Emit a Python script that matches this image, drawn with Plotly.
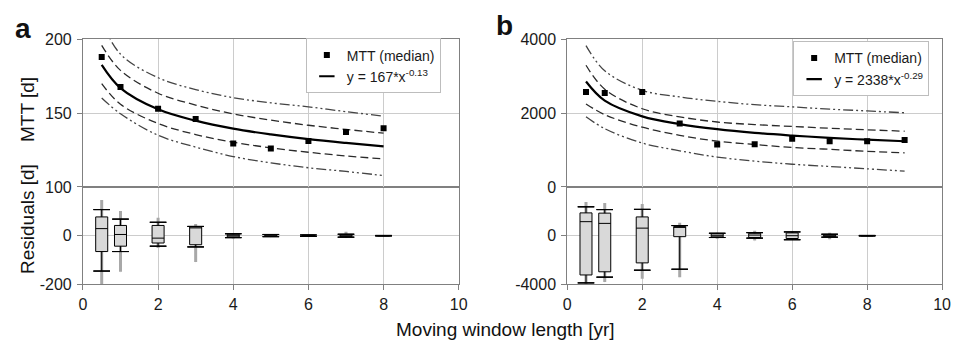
import plotly.graph_objects as go

# ---------------- data: panel a ----------------
x_a = [0.5, 1, 2, 3, 4, 5, 6, 7, 8]
mtt_a = [188, 167.7, 153, 146, 129.5, 126, 131.2, 137.2, 139.7]
fit_a = [182.7, 167.0, 152.6, 144.9, 139.5, 135.6, 132.4, 129.8, 127.5]
dash_hi_a = [196, 179, 163.5, 155.5, 149.5, 145.3, 141.8, 139.0, 136.4]
dash_lo_a = [170, 156, 143, 135.5, 130.3, 126.5, 123.5, 121.0, 119.0]
dd_hi_a = [212, 190, 174, 166, 160.5, 157, 154.3, 151, 148]
dd_lo_a = [160.3, 149.6, 135, 127, 120.6, 116.3, 113, 110.5, 107.7]

box_x_a = [0.5, 1, 2, 3, 4, 5, 6, 7, 8]
uf_a = [107, 68, 55, 38, 8, 5, 3, 6, 1]
q3_a = [77, 42, 42, 36, 6, 4, 2, 5, 0.5]
med_a = [29, 5, -10, 33, 0, 0, 0, 0, 0]
q1_a = [-65, -43, -30, -37, -5, -2, -2, -4, -0.5]
lf_a = [-145, -65, -43, -46, -8, -4, -3, -6, -1]
out_hi_a = [146, 101, 74, 48, 9, 5, 3, 16, 1]
out_lo_a = [-215, -148, -50, -108, -12, -5, -3, -8, -1]

# ---------------- data: panel b ----------------
x_b = [0.5, 1, 2, 3, 4, 5, 6, 7, 8, 9]
mtt_b = [2575, 2545, 2575, 1723, 1150, 1155, 1308, 1236, 1240, 1275]
fit_b = [2858, 2338, 1913, 1703, 1565, 1466, 1393, 1331, 1280, 1238]
dash_hi_b = [3300, 2650, 2120, 1900, 1760, 1690, 1640, 1590, 1550, 1510]
dash_lo_b = [2250, 1960, 1620, 1400, 1240, 1150, 1070, 1020, 965, 925]
dd_hi_b = [3830, 3150, 2620, 2440, 2320, 2230, 2170, 2110, 2060, 2010]
dd_lo_b = [1900, 1580, 1190, 980, 810, 700, 615, 555, 490, 430]

box_x_b = [0.5, 1, 2, 3, 4, 5, 6, 7, 8]
uf_b = [2370, 2140, 2160, 830, 200, 250, 310, 120, 20]
q3_b = [1870, 1850, 1540, 760, 150, 200, 230, 80, 10]
med_b = [1150, 1010, 620, 700, 0, 50, 0, 0, 0]
q1_b = [-3220, -2960, -2230, -80, -100, -150, -230, -80, -10]
lf_b = [-3870, -3400, -2830, -2750, -150, -200, -330, -120, -20]
out_hi_b = [2760, 2680, 2600, 1070, 250, 400, 350, 250, 20]
out_lo_b = [-4100, -3790, -3530, -3400, -250, -400, -350, -300, -20]

x_ticks = [0, 2, 4, 6, 8, 10]
mtt_ticks_a = [100, 150, 200]
res_ticks_a = [-200, 0]
res_ticktext_a = ["-200", "0"]
mtt_ticks_b = [0, 2000, 4000]
res_ticks_b = [-4000, 0]
res_ticktext_b = ["-4000", "0"]
legend_labels_a = ["MTT (median)", "y = 167*x<sup>-0.13</sup>"]
legend_labels_b = ["MTT (median)", "y = 2338*x<sup>-0.29</sup>"]

FONT = "Liberation Sans, Arial, sans-serif"
W, H = 959, 352
GRID = "#cccccc"
AXL = "#808080"

fig = go.Figure()


def flat_box(xs, level, width, color, lw, xb, yb):
    # zero-height box -> horizontal segment at `level`
    fig.add_trace(go.Box(x=xs, q1=level, median=level, q3=level,
                         lowerfence=level, upperfence=level, orientation="v",
                         width=width, whiskerwidth=0, fillcolor=color,
                         line=dict(color=color, width=lw), boxpoints=False,
                         xaxis=xb, yaxis=yb, showlegend=False, hoverinfo="skip"))


def add_panel(xs, mtt, fit, dhi, dlo, ddhi, ddlo, bx, uf, q3, med, q1, lf, ohi, olo,
              xt, yt, xb, yb, leg, labels):
    # band curves
    for ys in (ddhi, ddlo):
        fig.add_trace(go.Scatter(x=xs, y=ys, mode="lines", line_shape="spline",
                                 line=dict(color="#444444", width=1.3,
                                           dash="10px,3px,2px,3px,2px,3px"),
                                 xaxis=xt, yaxis=yt, showlegend=False, hoverinfo="skip"))
    for ys in (dhi, dlo):
        fig.add_trace(go.Scatter(x=xs, y=ys, mode="lines", line_shape="spline",
                                 line=dict(color="#2a2a2a", width=1.3, dash="8px,4px"),
                                 xaxis=xt, yaxis=yt, showlegend=False, hoverinfo="skip"))
    fig.add_trace(go.Scatter(x=xs, y=fit, mode="lines", line_shape="spline",
                             line=dict(color="black", width=2.2),
                             xaxis=xt, yaxis=yt, showlegend=False, hoverinfo="skip"))
    fig.add_trace(go.Scatter(x=xs, y=mtt, mode="markers", name=labels[0],
                             marker=dict(symbol="square", size=6, color="black"),
                             xaxis=xt, yaxis=yt, legend=leg))
    fig.add_trace(go.Scatter(x=[None], y=[None], mode="markers", name=labels[1],
                             marker=dict(symbol="line-ew-open", size=11, color="black",
                                         line=dict(color="black", width=2.2)),
                             xaxis=xt, yaxis=yt, legend=leg))
    # residual outlier streaks (grey, behind boxes): whisker of a zero-height box
    fig.add_trace(go.Box(x=bx, q1=olo, median=olo, q3=olo, lowerfence=olo,
                         upperfence=ohi, orientation="v", width=0.002, whiskerwidth=0,
                         fillcolor="#a8a8a8", line=dict(color="#a8a8a8", width=3),
                         boxpoints=False, xaxis=xb, yaxis=yb, showlegend=False,
                         hoverinfo="skip"))
    # main boxes (caps drawn separately, a little wider than the boxes)
    fig.add_trace(go.Box(x=bx, q1=q1, median=med, q3=q3, lowerfence=lf, upperfence=uf,
                         orientation="v", width=0.32, whiskerwidth=0,
                         fillcolor="#d9d9d9", line=dict(color="black", width=1),
                         boxpoints=False, xaxis=xb, yaxis=yb, showlegend=False))
    flat_box(bx, uf, 0.44, "black", 1, xb, yb)
    flat_box(bx, lf, 0.44, "black", 1, xb, yb)


add_panel(x_a, mtt_a, fit_a, dash_hi_a, dash_lo_a, dd_hi_a, dd_lo_a,
          box_x_a, uf_a, q3_a, med_a, q1_a, lf_a, out_hi_a, out_lo_a,
          "x3", "y", "x", "y2", "legend", legend_labels_a)
add_panel(x_b, mtt_b, fit_b, dash_hi_b, dash_lo_b, dd_hi_b, dd_lo_b,
          box_x_b, uf_b, q3_b, med_b, q1_b, lf_b, out_hi_b, out_lo_b,
          "x4", "y3", "x2", "y4", "legend2", legend_labels_b)

dom_xa = [80 / W, 461 / W]
dom_xb = [571 / W, 951 / W]
dom_top = [1 - 188 / H, 1 - 33 / H]
dom_bot = [1 - 290.5 / H, 1 - 188 / H]

tickfont = dict(family=FONT, size=16, color="#1a1a1a")


def xax(domain, anchor, labels):
    return dict(domain=domain, anchor=anchor, range=[0, 10], tickvals=x_ticks,
                showticklabels=labels, ticks="outside" if labels else "", ticklen=5,
                tickcolor=AXL, showgrid=True, gridcolor=GRID, gridwidth=1,
                showline=True, linecolor=AXL, linewidth=1, mirror=True,
                zeroline=False, tickfont=tickfont)


def yax(domain, anchor, rng, tv, tt=None):
    d = dict(domain=domain, anchor=anchor, range=rng, tickvals=tv,
             ticks="outside", ticklen=5, tickcolor=AXL, ticklabelstandoff=2,
             showgrid=True, gridcolor=GRID, gridwidth=1,
             showline=True, linecolor=AXL, linewidth=1, mirror=True,
             zeroline=False, tickfont=tickfont)
    if tt is not None:
        d["ticktext"] = tt
    return d


legbase = dict(xanchor="left", yanchor="top", bgcolor="white", bordercolor="#bdbdbd",
               borderwidth=1, font=dict(family=FONT, size=14, color="#1a1a1a"),
               tracegroupgap=0, itemwidth=30)

fig.update_layout(
    width=W, height=H, margin=dict(l=0, r=0, t=0, b=0),
    paper_bgcolor="white", plot_bgcolor="white",
    font=dict(family=FONT, size=15, color="#1a1a1a"),
    boxmode="overlay",
    xaxis=xax(dom_xa, "y2", True),
    xaxis2=xax(dom_xb, "y4", True),
    xaxis3=xax(dom_xa, "y", False),
    xaxis4=xax(dom_xb, "y3", False),
    yaxis=yax(dom_top, "x3", [100, 200], mtt_ticks_a),
    yaxis2=yax(dom_bot, "x", [-200, 200], res_ticks_a, res_ticktext_a),
    yaxis3=yax(dom_top, "x4", [0, 4000], mtt_ticks_b),
    yaxis4=yax(dom_bot, "x2", [-4000, 4000], res_ticks_b, res_ticktext_b),
    legend=dict(legbase, x=306 / W, y=1 - 32 / H),
    legend2=dict(legbase, x=800 / W, y=1 - 35 / H),
    showlegend=True,
)

ann = [
    dict(text="<b>a</b>", x=19 / W, y=1 - 22 / H, size=28),
    dict(text="<b>b</b>", x=507 / W, y=1 - 18 / H, size=28),
    dict(text="Moving window length [yr]", x=508 / W, y=1 - 338 / H, size=19),
]
for a in ann:
    fig.add_annotation(text=a["text"], x=a["x"], y=a["y"], xref="paper", yref="paper",
                       xanchor="center", yanchor="middle", showarrow=False,
                       font=dict(family=FONT, size=a["size"], color="#111111"))
for t, yc in (("MTT [d]", 106.5), ("Residuals [d]", 222)):
    fig.add_annotation(text=t, x=24 / W, y=1 - yc / H, xref="paper", yref="paper",
                       xanchor="center", yanchor="middle", textangle=-90, showarrow=False,
                       font=dict(family=FONT, size=19, color="#111111"))

fig.write_html("out.html")
